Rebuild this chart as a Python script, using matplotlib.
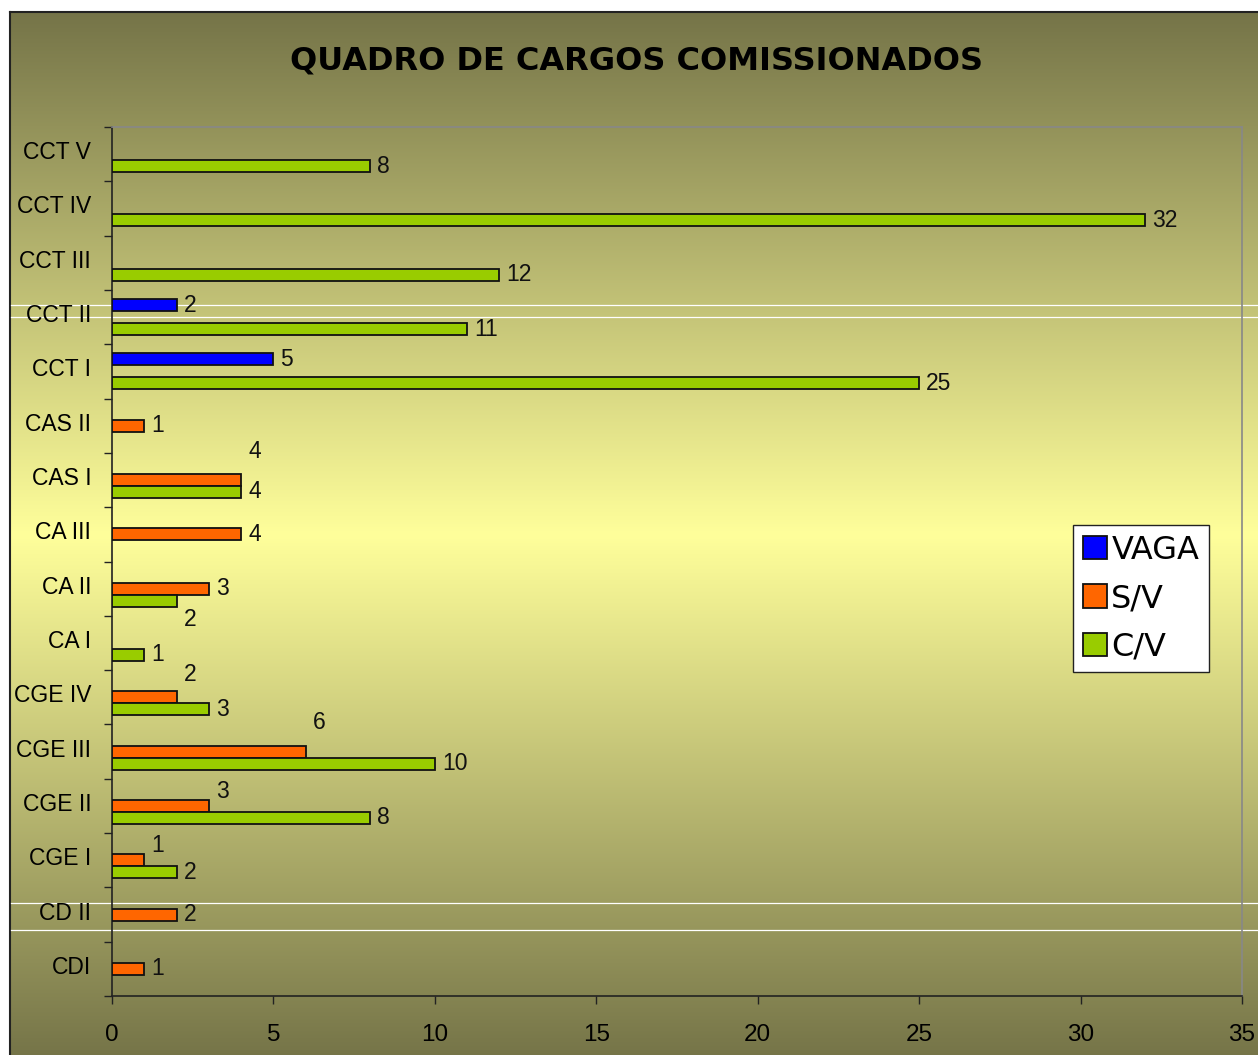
import numpy as np
import matplotlib
matplotlib.use("Agg")
import matplotlib.pyplot as plt
import matplotlib.transforms as mtransforms

# ---------------- data ----------------
categories = ["CDI", "CD II", "CGE I", "CGE II", "CGE III", "CGE IV", "CA I", "CA II",
              "CA III", "CAS I", "CAS II", "CCT I", "CCT II", "CCT III", "CCT IV", "CCT V"]
vaga = [0, 0, 0, 0, 0, 0, 0, 0, 0, 0, 0, 5, 2, 0, 0, 0]
sv   = [1, 2, 1, 3, 6, 2, 0, 3, 4, 4, 1, 0, 0, 0, 0, 0]
cv   = [0, 0, 2, 8, 10, 3, 1, 2, 0, 4, 0, 25, 11, 12, 32, 8]
xticks = [0, 5, 10, 15, 20, 25, 30, 35]
title = "QUADRO DE CARGOS COMISSIONADOS"

# label nudges (pixels, + = up) mimicking the reference's label collisions
nudges = {("S/V", "CAS I"): 29, ("C/V", "CA II"): -19, ("S/V", "CGE IV"): 23,
          ("S/V", "CGE III"): 29, ("S/V", "CGE II"): 14, ("S/V", "CGE I"): 15}

W, H = 1258, 1055
fig = plt.figure(figsize=(W / 100, H / 100), dpi=100)
fig.patch.set_facecolor("white")

# ---------------- background gradient ----------------
bg = fig.add_axes([0, 0, 1, 1], zorder=-10)
bg.set_xlim(0, W)
bg.set_ylim(H, 0)
bg.axis("off")
dark = np.array([117, 116, 72]) / 255.0
light = np.array([255, 255, 155]) / 255.0
top, bot = 12, 1058
ys = np.linspace(top, bot, 600)
c = (top + bot) / 2
t = 1 - np.abs(ys - c) / ((bot - top) / 2)
grad = dark[None, :] * (1 - t[:, None]) + light[None, :] * t[:, None]
bg.imshow(grad[:, None, :], extent=[10, W + 5, bot, top], aspect="auto", interpolation="bilinear")
bg.plot([10, 10], [12, H + 5], color="#222222", lw=1.5)
bg.plot([10, W + 5], [12, 12], color="#222222", lw=1.5)
for yy in (305, 317, 903, 930):
    bg.plot([11, W], [yy, yy], color="white", lw=0.9)

# ---------------- main axes ----------------
x0, x1, y0, y1 = 112, 1242, 127, 996
ax = fig.add_axes([x0 / W, (H - y1) / H, (x1 - x0) / W, (y1 - y0) / H])
ax.set_facecolor("none")

y = np.arange(len(categories))
h = 0.22
series = [("VAGA", vaga, "#0000FF", h), ("S/V", sv, "#FF6600", 0.0), ("C/V", cv, "#99CC00", -h)]
for name, vals, col, off in series:
    vv = np.array(vals, dtype=float)
    mask = vv > 0
    ax.barh(y[mask] + off, vv[mask], height=h, color=col, edgecolor="#111111", linewidth=1.3,
            label=name, zorder=3)
    for yi, v in zip(y[mask], vv[mask]):
        dy = nudges.get((name, categories[yi]), 0)
        ax.annotate(f"{int(v)}", (v, yi + off), xytext=(7, dy), textcoords="offset pixels",
                    ha="left", va="center", fontsize=16.5, family="Liberation Sans", color="#111111")

ax.set_xlim(0, 35)
ax.set_ylim(-0.5, len(categories) - 0.5)
ax.set_xticks(xticks)
ax.set_xticklabels([str(v) for v in xticks], fontsize=17.5, family="Liberation Sans")
ax.tick_params(axis="x", direction="out", length=6, width=1, color="#222222", pad=14)
ax.set_yticks(y)
ax.set_yticklabels(categories, fontsize=16.5, family="Liberation Sans")
ax.tick_params(axis="y", which="major", length=0, pad=15)
ax.set_yticks(np.arange(len(categories) + 1) - 0.5, minor=True)
ax.tick_params(axis="y", which="minor", direction="out", length=6, width=1, color="#222222")
shift = mtransforms.ScaledTranslation(0, 4 / 100, fig.dpi_scale_trans)
for lab in ax.get_yticklabels():
    lab.set_transform(lab.get_transform() + shift)
ax.spines["left"].set_color("#222222")
ax.spines["bottom"].set_color("#222222")
ax.spines["top"].set_color("#888888")
ax.spines["right"].set_color("#888888")
for s in ax.spines.values():
    s.set_linewidth(1.2)

handles, labels = ax.get_legend_handles_labels()
leg = ax.legend(handles, labels, loc="upper left", bbox_to_anchor=((1073 - x0) / (x1 - x0), (y1 - 525) / (y1 - y0)),
                frameon=True, fancybox=False, edgecolor="#222222", framealpha=1,
                handlelength=0.75, handleheight=0.75, handletextpad=0.15, labelspacing=0.55,
                borderpad=0.3, borderaxespad=0, prop={"family": "DejaVu Sans", "size": 23})
leg.get_frame().set_linewidth(1.0)

fig.text(636 / W, 1 - 61 / H, title, ha="center", va="center", fontsize=23,
         fontweight="bold", family="DejaVu Sans", color="black")

fig.savefig("out.png", dpi=100)
